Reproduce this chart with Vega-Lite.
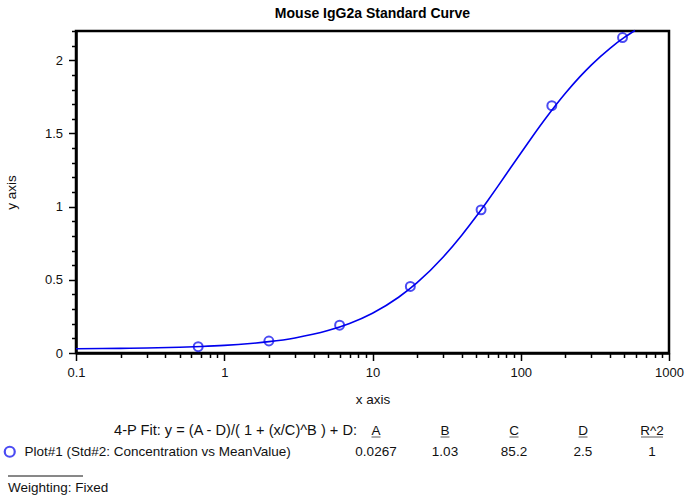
{
  "$schema": "https://vega.github.io/schema/vega-lite/v6.json",
  "width": 593,
  "height": 322,
  "autosize": {"type": "none"},
  "padding": {"left": 76, "top": 31, "right": 16, "bottom": 145},
  "background": "white",
  "title": {"text": "Mouse IgG2a Standard Curve", "font": "Liberation Sans", "fontSize": 14, "fontWeight": "bold", "color": "#000", "anchor": "middle", "offset": 4},
  "config": {
    "view": {"stroke": "#000", "strokeWidth": 2.5},
    "axis": {"domainColor": "#000", "domainWidth": 2.5, "tickColor": "#000", "tickWidth": 1.5, "labelFont": "Liberation Sans", "labelFontSize": 13, "labelColor": "#111", "titleFont": "Liberation Sans", "titleFontSize": 13.5, "titleFontWeight": "normal", "titleColor": "#111", "grid": false, "labelOverlap": false},
    "text": {"font": "Liberation Sans", "fontSize": 13.5, "color": "#111"}
  },
  "datasets": {
    "curve": [
      {"x": 0.1, "y": 0.0291}, {"x": 0.15, "y": 0.0303}, {"x": 0.2, "y": 0.0315}, {"x": 0.3, "y": 0.034},
      {"x": 0.5, "y": 0.0391}, {"x": 0.7, "y": 0.0442}, {"x": 1, "y": 0.0518}, {"x": 1.5, "y": 0.0647},
      {"x": 2, "y": 0.0775}, {"x": 3, "y": 0.103}, {"x": 5, "y": 0.1532}, {"x": 7, "y": 0.2019},
      {"x": 10, "y": 0.2719}, {"x": 15, "y": 0.381}, {"x": 20, "y": 0.4806}, {"x": 30, "y": 0.656},
      {"x": 40, "y": 0.8048}, {"x": 50, "y": 0.9322}, {"x": 60, "y": 1.0424}, {"x": 70, "y": 1.1386},
      {"x": 85, "y": 1.2619}, {"x": 100, "y": 1.3652}, {"x": 120, "y": 1.4792}, {"x": 150, "y": 1.6137},
      {"x": 200, "y": 1.7743}, {"x": 250, "y": 1.8864}, {"x": 300, "y": 1.9689}, {"x": 400, "y": 2.0821},
      {"x": 500, "y": 2.156}, {"x": 590, "y": 2.2034}
    ],
    "points": [
      {"series": "Plot#1 (Std#2: Concentration vs MeanValue)", "x": 0.667, "y": 0.043},
      {"series": "Plot#1 (Std#2: Concentration vs MeanValue)", "x": 2, "y": 0.082},
      {"series": "Plot#1 (Std#2: Concentration vs MeanValue)", "x": 6, "y": 0.19},
      {"series": "Plot#1 (Std#2: Concentration vs MeanValue)", "x": 18, "y": 0.455},
      {"series": "Plot#1 (Std#2: Concentration vs MeanValue)", "x": 54, "y": 0.978},
      {"series": "Plot#1 (Std#2: Concentration vs MeanValue)", "x": 162, "y": 1.69},
      {"series": "Plot#1 (Std#2: Concentration vs MeanValue)", "x": 486, "y": 2.155}
    ],
    "params": [
      {"param": "A", "value": "0.0267"},
      {"param": "B", "value": "1.03"},
      {"param": "C", "value": "85.2"},
      {"param": "D", "value": "2.5"},
      {"param": "R^2", "value": "1"}
    ],
    "notes": [
      {"kind": "fit", "text": "4-P Fit: y = (A - D)/( 1 + (x/C)^B ) + D:"},
      {"kind": "weighting", "text": "Weighting: Fixed"}
    ]
  },
  "layer": [
    {
      "encoding": {
        "x": {"field": "x", "type": "quantitative",
          "scale": {"type": "log", "domain": [0.1, 1000]},
          "axis": {"title": "x axis", "values": [0.1,0.2,0.3,0.4,0.5,0.6,0.7,0.8,0.9,1,2,3,4,5,6,7,8,9,10,20,30,40,50,60,70,80,90,100,200,300,400,500,600,700,800,900,1000],
            "labelExpr": "abs(log(datum.value)/LN10 - round(log(datum.value)/LN10)) < 0.001 ? toString(datum.value) : ''",
            "tickSize": {"condition": {"test": "abs(log(datum.value)/LN10 - round(log(datum.value)/LN10)) < 0.001", "value": 7.5}, "value": 4.5},
            "labelFlush": false, "labelOverlap": false, "labelPadding": 6, "titlePadding": 13}},
        "y": {"field": "y", "type": "quantitative",
          "scale": {"domain": [0, 2.2], "nice": false, "zero": false},
          "axis": {"title": "y axis", "values": [0,0.1,0.2,0.3,0.4,0.5,0.6,0.7,0.8,0.9,1,1.1,1.2,1.3,1.4,1.5,1.6,1.7,1.8,1.9,2,2.1,2.2],
            "labelExpr": "abs(datum.value*2 - round(datum.value*2)) < 0.001 ? toString(round(datum.value*10)/10) : ''",
            "tickSize": {"condition": {"test": "abs(datum.value*2 - round(datum.value*2)) < 0.001", "value": 7.5}, "value": 4.5},
            "labelOverlap": false, "labelPadding": 6, "titlePadding": 26}}
      },
      "layer": [
        {
          "data": {"name": "curve"},
          "mark": {"type": "line", "color": "#0000ee", "strokeWidth": 1.6, "clip": false, "interpolate": "monotone"}
        },
        {
          "data": {"name": "points"},
          "mark": {"type": "point", "shape": "circle", "filled": false, "size": 80, "strokeWidth": 2, "clip": false},
          "encoding": {
            "color": {"field": "series", "type": "nominal", "scale": {"range": ["#0000ee"]},
              "legend": {"title": null, "orient": "none", "legendX": -73, "legendY": 414, "symbolType": "circle", "symbolSize": 100, "symbolStrokeWidth": 2.2, "labelFont": "Liberation Sans", "labelFontSize": 13.5, "labelColor": "#111", "labelOffset": 8, "padding": 0, "labelLimit": 500}}
          }
        }
      ]
    },
    {
      "layer": [
        {
          "data": {"name": "params"},
          "mark": {"type": "text", "align": "center", "baseline": "alphabetic"},
          "encoding": {
            "x": {"field": "param", "type": "nominal", "scale": {"type": "point", "domain": ["A", "B", "C", "D", "R^2"], "range": [300, 576], "padding": 0}, "axis": null},
            "y": {"datum": "header", "type": "nominal", "scale": {"type": "point", "domain": ["header", "values"], "range": [404, 425], "padding": 0}, "axis": null},
            "text": {"field": "param"}
          }
        },
        {
          "data": {"name": "params"},
          "mark": {"type": "text", "align": "center", "baseline": "alphabetic"},
          "encoding": {
            "x": {"field": "param", "type": "nominal"},
            "y": {"datum": "values", "type": "nominal"},
            "text": {"field": "value"}
          }
        },
        {
          "data": {"name": "params"},
          "transform": [{"filter": "datum.param !== 'R^2'"}],
          "mark": {"type": "tick", "orient": "horizontal", "size": 9, "thickness": 1, "color": "#111", "yOffset": 2},
          "encoding": {
            "x": {"field": "param", "type": "nominal"},
            "y": {"datum": "header", "type": "nominal"}
          }
        },
        {
          "data": {"name": "params"},
          "transform": [{"filter": "datum.param === 'R^2'"}],
          "mark": {"type": "tick", "orient": "horizontal", "size": 22, "thickness": 1, "color": "#111", "yOffset": 2},
          "encoding": {
            "x": {"field": "param", "type": "nominal"},
            "y": {"datum": "header", "type": "nominal"}
          }
        },
        {
          "data": {"name": "notes"},
          "transform": [{"filter": "datum.kind === 'fit'"}],
          "mark": {"type": "text", "align": "right", "baseline": "alphabetic", "dx": -19, "fontSize": 14.6},
          "encoding": {
            "x": {"datum": "A", "type": "nominal"},
            "y": {"datum": "header", "type": "nominal"},
            "text": {"field": "text"}
          }
        },
        {
          "data": {"name": "notes"},
          "transform": [{"filter": "datum.kind === 'weighting'"}],
          "mark": {"type": "rule", "color": "#111", "strokeWidth": 1, "xOffset": -368, "x2Offset": -293, "yOffset": 20},
          "encoding": {
            "x": {"datum": "A", "type": "nominal"},
            "x2": {"datum": "A"},
            "y": {"datum": "values", "type": "nominal"}
          }
        },
        {
          "data": {"name": "notes"},
          "transform": [{"filter": "datum.kind === 'weighting'"}],
          "mark": {"type": "text", "align": "left", "baseline": "alphabetic", "dx": -368, "dy": 36},
          "encoding": {
            "x": {"datum": "A", "type": "nominal"},
            "y": {"datum": "values", "type": "nominal"},
            "text": {"field": "text"}
          }
        }
      ]
    }
  ],
  "resolve": {"scale": {"x": "independent", "y": "independent"}, "axis": {"x": "independent", "y": "independent"}}
}
